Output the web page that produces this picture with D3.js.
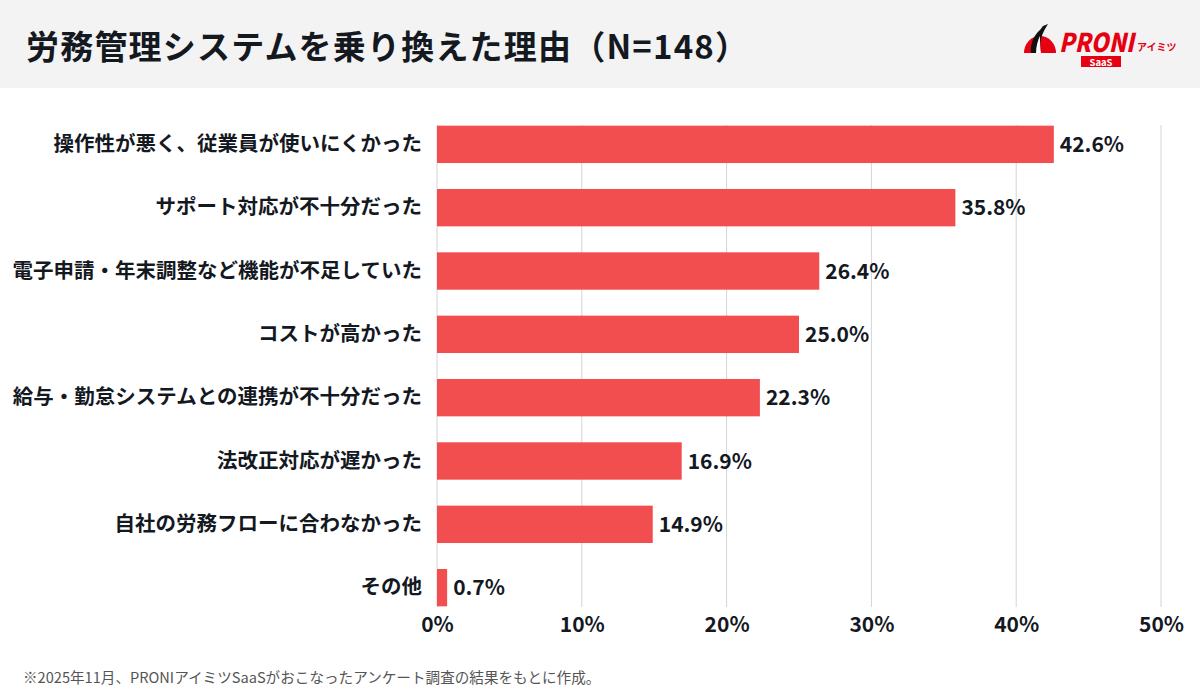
<!DOCTYPE html>
<meta charset="UTF-8">
<head>
  <style>
    body { margin: 0; background: #fff; }
    text { font-family: "Noto Sans CJK JP", "Noto Sans", sans-serif; }
  </style>
</head>
<body>
  <div id="chart"></div>
  <script src="https://d3js.org/d3.v7.min.js"></script>
  <script>
    // data
    const categories = [
      "操作性が悪く、従業員が使いにくかった",
      "サポート対応が不十分だった",
      "電子申請・年末調整など機能が不足していた",
      "コストが高かった",
      "給与・勤怠システムとの連携が不十分だった",
      "法改正対応が遅かった",
      "自社の労務フローに合わなかった",
      "その他"
    ];
    const values = [42.6, 35.8, 26.4, 25.0, 22.3, 16.9, 14.9, 0.7];
    const ticks = [0, 10, 20, 30, 40, 50];
    const title = "労務管理システムを乗り換えた理由（N=148）";
    const note = "※2025年11月、PRONIアイミツSaaSがおこなったアンケート調査の結果をもとに作成。";

    const W = 1200, H = 700;
    const svg = d3.select("#chart").append("svg")
      .attr("width", W).attr("height", H);

    // header band
    svg.append("rect").attr("x", 0).attr("y", 0).attr("width", W).attr("height", 88)
      .attr("fill", "#f3f3f3");
    svg.append("text").attr("x", 26).attr("y", 59)
      .attr("font-size", 33).attr("font-weight", 700).attr("fill", "#14181f")
      .attr("letter-spacing", 1.2)
      .text(title);

    // logo (rough)
    const red = "#e50012";
    const logo = svg.append("g");
    logo.append("path").attr("d", "M1024,53 A16,17 0 0 1 1056,53 Z").attr("fill", red);
    logo.append("path").attr("d", "M1031,53 C1030,44 1034,35 1040,30 L1043,26 L1048,24 L1045,29 C1041,36 1039,44 1041,53 Z").attr("fill", "#111");
    logo.append("path").attr("d", "M1036,53 C1036,46 1038,40 1040,36 C1040,42 1040,48 1041,53 Z").attr("fill", "#fff");
    logo.append("text").attr("x", 1059).attr("y", 52)
      .attr("font-size", 26).attr("font-weight", 900).attr("font-style", "italic")
      .attr("fill", red).attr("font-family", "Roboto, sans-serif")
      .attr("textLength", 75).attr("lengthAdjust", "spacingAndGlyphs").text("PRONI");
    logo.append("text").attr("x", 1137).attr("y", 51)
      .attr("font-size", 10).attr("font-weight", 700).attr("fill", red).text("アイミツ");
    logo.append("rect").attr("x", 1081).attr("y", 56).attr("width", 40).attr("height", 11).attr("fill", red);
    logo.append("text").attr("x", 1101).attr("y", 65.5).attr("text-anchor", "middle")
      .attr("font-size", 9.5).attr("font-weight", 700).attr("fill", "#fff").text("SaaS");

    // scales
    const x = d3.scaleLinear().domain([0, 50]).range([437, 1161]);
    const y = d3.scaleBand().domain(categories).range([113, 619]).paddingInner(0.41).paddingOuter(0.2);

    // gridlines
    svg.append("g").selectAll("line").data(ticks).join("line")
      .attr("x1", d => x(d)).attr("x2", d => x(d))
      .attr("y1", 125).attr("y2", 607)
      .attr("stroke", "#d4d4d4").attr("stroke-width", 1);

    // x axis labels
    const xAxis = d3.axisBottom(x).tickValues(ticks).tickFormat(d => d + "%").tickSize(0).tickPadding(0);
    const gx = svg.append("g").attr("transform", "translate(0,632)").call(xAxis);
    gx.select(".domain").remove();
    gx.selectAll("text").attr("font-size", 21).attr("font-weight", 700).attr("fill", "#14181f")
      .attr("font-family", "\"Noto Sans CJK JP\", sans-serif").attr("y", 0).attr("dy", 0);

    // y axis labels
    const yAxis = d3.axisLeft(y).tickSize(0).tickPadding(15);
    const gy = svg.append("g").attr("transform", "translate(437,0)").call(yAxis);
    gy.select(".domain").remove();
    gy.selectAll("text").attr("font-size", 20.5).attr("font-weight", 700).attr("fill", "#14181f")
      .attr("font-family", "\"Noto Sans CJK JP\", sans-serif");

    // bars
    svg.append("g").selectAll("rect").data(values).join("rect")
      .attr("x", x(0))
      .attr("y", (d, i) => y(categories[i]))
      .attr("width", d => x(d) - x(0))
      .attr("height", y.bandwidth())
      .attr("fill", "#f24e4f");

    // value labels
    svg.append("g").selectAll("text").data(values).join("text")
      .attr("x", d => x(d) + 6)
      .attr("y", (d, i) => y(categories[i]) + y.bandwidth() / 2)
      .attr("dy", "0.36em")
      .attr("font-size", 21).attr("font-weight", 700).attr("fill", "#14181f")
      .text(d => d.toFixed(1) + "%");

    // footnote
    svg.append("text").attr("x", 23).attr("y", 683)
      .attr("font-size", 14.6).attr("fill", "#555")
      .text(note);
  </script>
</body>
